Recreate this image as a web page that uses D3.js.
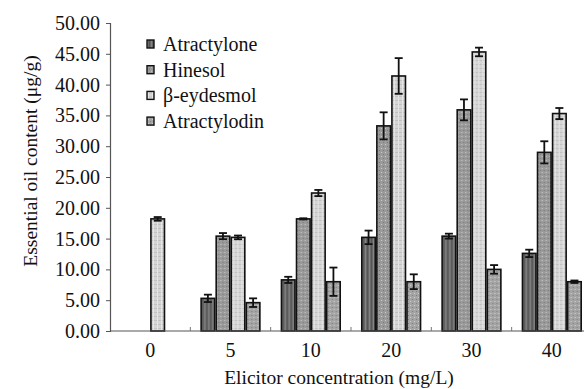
<!DOCTYPE html>
<html>
<head>
<meta charset="utf-8">
<script src="https://cdn.jsdelivr.net/npm/d3@7/dist/d3.min.js"></script>
<style>
  html, body { margin: 0; padding: 0; background: #fff; }
  svg { display: block; }
  svg text { font-family: "Liberation Serif", "Times New Roman", serif !important; fill: #111; }
</style>
</head>
<body>
<svg id="chart" width="584" height="389"></svg>
<script>
// Elicitor concentrations (mg/L)
const categories = ["0", "5", "10", "20", "30", "40"];
const seriesNames = ["Atractylone", "Hinesol", "β-eydesmol", "Atractylodin"];

// Mean essential oil content (μg/g); null = not detected
const atractylone = [null, 5.3, 8.3, 15.2, 15.4, 12.6];
const hinesol     = [null, 15.4, 18.2, 33.3, 35.9, 29.0];
const eudesmol    = [18.2, 15.2, 22.4, 41.4, 45.3, 35.3];
const atractylodin = [null, 4.6, 8.0, 8.0, 10.0, 8.0];

// Standard deviations
const atractyloneErr  = [0, 0.6, 0.5, 1.1, 0.4, 0.6];
const hinesolErr      = [0, 0.5, 0.1, 2.2, 1.7, 1.8];
const eudesmolErr     = [0.3, 0.3, 0.5, 2.9, 0.7, 0.9];
const atractylodinErr = [0, 0.7, 2.3, 1.2, 0.7, 0.2];

const yTicks = [0, 5, 10, 15, 20, 25, 30, 35, 40, 45, 50];

const values = [atractylone, hinesol, eudesmol, atractylodin];
const errors = [atractyloneErr, hinesolErr, eudesmolErr, atractylodinErr];

const svg = d3.select("#chart");

const x = d3.scaleBand().domain(categories).range([110, 592]).paddingInner(0.25).paddingOuter(0.125);
const xs = d3.scaleBand().domain(seriesNames).range([0, x.bandwidth()]);
const y = d3.scaleLinear().domain([0, 50]).range([331, 23]);

// Fill textures for the four series
const defs = svg.append("defs");
function pattern(id, base, draw) {
  const p = defs.append("pattern").attr("id", id).attr("patternUnits", "userSpaceOnUse")
    .attr("width", 4).attr("height", 4);
  p.append("rect").attr("width", 4).attr("height", 4).attr("fill", base);
  draw(p);
}
pattern("pA", "#686868", p => {
  p.append("rect").attr("x", 0).attr("y", 0).attr("width", 1).attr("height", 4).attr("fill", "#858585");
  p.append("rect").attr("x", 2).attr("y", 0).attr("width", 1).attr("height", 4).attr("fill", "#555");
});
pattern("pH", "#9a9a9a", p => {
  p.append("rect").attr("x", 0).attr("y", 0).attr("width", 1).attr("height", 1).attr("fill", "#cacaca");
  p.append("rect").attr("x", 2).attr("y", 2).attr("width", 1).attr("height", 1).attr("fill", "#777");
});
pattern("pE", "#d4d4d4", p => {
  p.append("rect").attr("x", 0).attr("y", 0).attr("width", 4).attr("height", 1).attr("fill", "#c2c2c2");
  p.append("rect").attr("x", 1).attr("y", 0).attr("width", 1).attr("height", 4).attr("fill", "#e6e6e6");
});
pattern("pT", "#a4a4a4", p => {
  p.append("rect").attr("x", 1).attr("y", 1).attr("width", 1).attr("height", 1).attr("fill", "#d0d0d0");
  p.append("rect").attr("x", 3).attr("y", 3).attr("width", 1).attr("height", 1).attr("fill", "#7e7e7e");
});
const fills = ["url(#pA)", "url(#pH)", "url(#pE)", "url(#pT)"];

// Bars with error bars
const groups = svg.append("g").selectAll("g").data(categories).join("g")
  .attr("transform", c => `translate(${x(c)},0)`);

seriesNames.forEach((name, si) => {
  groups.each(function (c, ci) {
    const v = values[si][ci];
    if (v == null) return;
    const g = d3.select(this);
    const bx = xs(name);
    const bw = xs.bandwidth();
    g.append("rect")
      .attr("x", bx + 0.75).attr("y", y(v))
      .attr("width", bw - 1.5).attr("height", y(0) - y(v))
      .attr("fill", fills[si]).attr("stroke", "#111").attr("stroke-width", 1.6);
    const e = errors[si][ci];
    const cx = bx + bw / 2;
    const eb = g.append("g").attr("stroke", "#111").attr("stroke-width", 1.8);
    eb.append("line").attr("x1", cx).attr("x2", cx).attr("y1", y(v + e)).attr("y2", y(v - e));
    [v + e, v - e].forEach(t => {
      eb.append("line").attr("x1", cx - 4).attr("x2", cx + 4).attr("y1", y(t)).attr("y2", y(t));
    });
  });
});

// Y axis
const yAxis = svg.append("g").attr("transform", "translate(110,0)")
  .call(d3.axisLeft(y).tickValues(yTicks).tickFormat(d3.format(".2f")).tickSize(4).tickPadding(6));
yAxis.attr("font-family", null);
yAxis.select(".domain").attr("stroke", "#555").attr("stroke-width", 1.2);
yAxis.selectAll(".tick line").attr("stroke", "#555");
yAxis.selectAll("text").attr("font-size", 20).attr("fill", "#111");

// X axis with ticks between categories
const step = x.step();
const xAxisG = svg.append("g").attr("transform", `translate(0,${y(0)})`);
xAxisG.append("line").attr("x1", 110).attr("x2", 592).attr("stroke", "#555").attr("stroke-width", 1.2);
xAxisG.selectAll(".sep").data(categories.slice(1)).join("line")
  .attr("x1", c => x(c) - step * x.paddingInner() / 2)
  .attr("x2", c => x(c) - step * x.paddingInner() / 2)
  .attr("y1", 0).attr("y2", -4).attr("stroke", "#777");
xAxisG.selectAll(".lab").data(categories).join("text")
  .attr("x", c => x(c) + x.bandwidth() / 2).attr("y", 26)
  .attr("text-anchor", "middle").attr("font-size", 20).text(c => c);

// Axis titles
svg.append("text").attr("x", 339).attr("y", 384).attr("text-anchor", "middle")
  .attr("font-size", 19.5).text("Elicitor concentration (mg/L)");
svg.append("text").attr("transform", "translate(37,161) rotate(-90)").attr("text-anchor", "middle")
  .attr("font-size", 19.5).text("Essential oil content (μg/g)");

// Legend
const legend = svg.append("g").attr("transform", "translate(147,45)");
seriesNames.forEach((name, i) => {
  const row = legend.append("g").attr("transform", `translate(0,${i * 25.7})`);
  row.append("rect").attr("x", 0).attr("y", -5).attr("width", 7).attr("height", 8)
    .attr("fill", fills[i]).attr("stroke", "#111").attr("stroke-width", 1.4);
  row.append("text").attr("x", 16).attr("y", 6).attr("font-size", 20).text(name);
});
</script>
</body>
</html>
